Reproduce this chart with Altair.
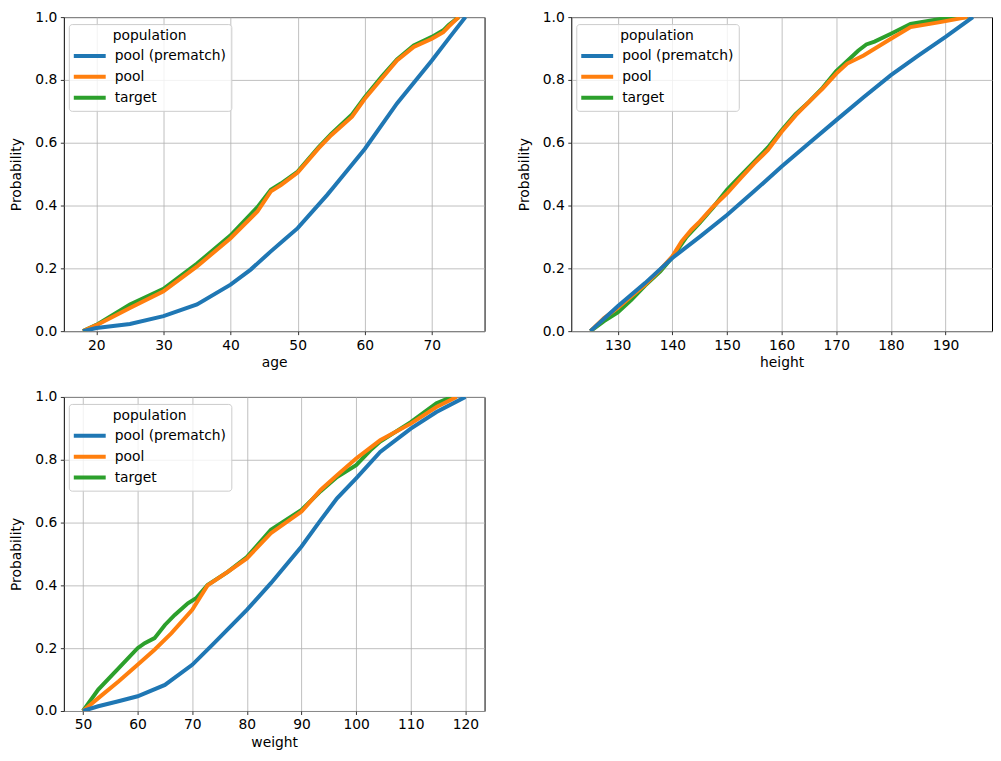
import altair as alt
import pandas as pd

POPS = ["pool (prematch)", "pool", "target"]
COLORS = ["#1f77b4", "#ff7f0e", "#2ca02c"]

# ---- age ----
age_pre_x = [18, 20, 25, 30, 35, 40, 43, 46, 48, 50, 54.4, 55.4, 60, 64.8, 70, 72.7, 75]
age_pre_y = [0, 0.01, 0.023, 0.048, 0.085, 0.148, 0.196, 0.254, 0.291, 0.328, 0.434, 0.46, 0.58, 0.725, 0.862, 0.937, 1.0]
age_pool_x = [18, 20, 25, 30, 35, 40, 44, 46, 47.5, 50, 53.1, 55, 58.1, 60, 62.5, 64.8, 67.3, 70, 71.7, 72.5, 74]
age_pool_y = [0, 0.019, 0.074, 0.127, 0.206, 0.296, 0.381, 0.445, 0.465, 0.505, 0.582, 0.624, 0.683, 0.74, 0.804, 0.862, 0.905, 0.931, 0.952, 0.97, 1.0]
age_tgt_x = [18, 20, 25, 30, 35, 40, 44, 46, 47.5, 50, 53.1, 55, 58.1, 60, 62.5, 64.8, 67.3, 70, 71.7, 72.5, 74]
age_tgt_y = [0, 0.02, 0.085, 0.135, 0.215, 0.305, 0.395, 0.45, 0.47, 0.508, 0.585, 0.628, 0.69, 0.745, 0.81, 0.865, 0.91, 0.937, 0.958, 0.975, 1.0]

# ---- height ----
h_pre_x = [125, 130, 135, 140, 145, 150, 155, 160, 165, 170, 175, 180, 185, 190, 195]
h_pre_y = [0, 0.079, 0.153, 0.233, 0.30, 0.37, 0.446, 0.524, 0.598, 0.672, 0.745, 0.815, 0.877, 0.937, 1.0]
h_pool_x = [125, 127.5, 130, 132.5, 135, 137.8, 140, 141.7, 143.5, 145, 147.5, 150, 152.5, 155, 157.5, 160,
            162.6, 165, 167.5, 170, 172, 175, 180, 183.6, 189, 194]
h_pool_y = [0, 0.042, 0.074, 0.111, 0.148, 0.196, 0.238, 0.286, 0.323, 0.349, 0.397, 0.439, 0.487, 0.534, 0.577, 0.635,
            0.688, 0.73, 0.772, 0.82, 0.852, 0.878, 0.931, 0.968, 0.984, 1.0]
h_tgt_x = [125, 127.5, 130, 132.5, 135, 137.8, 140, 142.6, 145, 147.5, 150, 152.5, 155, 157.5, 160,
           162.5, 165, 167.5, 170, 172, 174, 175.5, 177, 180, 183.6, 189, 194]
h_tgt_y = [0, 0.032, 0.06, 0.10, 0.145, 0.19, 0.235, 0.30, 0.345, 0.395, 0.45, 0.495, 0.54, 0.585, 0.64,
           0.69, 0.73, 0.775, 0.828, 0.86, 0.893, 0.913, 0.922, 0.947, 0.978, 0.994, 1.0]

# ---- weight ----
w_pre_x = [50, 52.8, 56.5, 60, 65, 70, 74, 80, 84.4, 90, 93.5, 96.5, 100, 104.4, 110, 114.7, 120]
w_pre_y = [0, 0.015, 0.031, 0.047, 0.083, 0.147, 0.216, 0.322, 0.407, 0.524, 0.608, 0.677, 0.741, 0.825, 0.899, 0.952, 1.0]
w_pool_x = [50, 52.8, 56.5, 60, 63.1, 66.2, 70, 72.8, 76.5, 80, 84.4, 90, 93.5, 96.5, 100, 104.4, 110, 114.7, 118.4]
w_pool_y = [0, 0.041, 0.094, 0.147, 0.195, 0.248, 0.322, 0.40, 0.443, 0.486, 0.566, 0.635, 0.704, 0.751, 0.804, 0.862,
            0.915, 0.968, 1.0]
w_tgt_x = [50, 52.8, 56.5, 60, 61.3, 63.1, 65, 66.8, 69.2, 70.7, 72.8, 76.5, 80, 84.4, 90, 93.5, 96.5, 100, 102.6,
           104.4, 110, 114.7, 117.5]
w_tgt_y = [0, 0.068, 0.136, 0.2, 0.216, 0.232, 0.274, 0.306, 0.343, 0.359, 0.401, 0.443, 0.49, 0.577, 0.64, 0.70,
           0.745, 0.783, 0.83, 0.858, 0.92, 0.98, 1.0]

Y_TICKS = [0, 0.2, 0.4, 0.6, 0.8, 1.0]


def frame(series):
    rows = []
    for pop, xs, ys in series:
        for x, y in zip(xs, ys):
            rows.append({"population": pop, "value": x, "prob": y})
    return pd.DataFrame(rows)


def panel(df, name, domain, ticks):
    base = alt.Chart(df)
    layers = []
    for pop in ["target", "pool", "pool (prematch)"]:
        layers.append(
            base.transform_filter(alt.datum.population == pop)
            .mark_line(strokeWidth=4, clip=True)
            .encode(
                x=alt.X("value:Q", scale=alt.Scale(domain=domain, nice=False, zero=False),
                        axis=alt.Axis(values=ticks, format="d", title=name)),
                y=alt.Y("prob:Q", scale=alt.Scale(domain=[0, 1], nice=False),
                        axis=alt.Axis(values=Y_TICKS, format=".1f", title="Probability")),
                color=alt.Color("population:N", scale=alt.Scale(domain=POPS, range=COLORS),
                                legend=alt.Legend(title="population", orient="none", legendX=5, legendY=7)),
            )
        )
    return alt.layer(*layers).properties(width=422, height=315)


age_df = frame([("pool (prematch)", age_pre_x, age_pre_y), ("pool", age_pool_x, age_pool_y), ("target", age_tgt_x, age_tgt_y)])
h_df = frame([("pool (prematch)", h_pre_x, h_pre_y), ("pool", h_pool_x, h_pool_y), ("target", h_tgt_x, h_tgt_y)])
w_df = frame([("pool (prematch)", w_pre_x, w_pre_y), ("pool", w_pool_x, w_pool_y), ("target", w_tgt_x, w_tgt_y)])

p1 = panel(age_df, "age", [15.15, 77.85], [20, 30, 40, 50, 60, 70])
p2 = panel(h_df, "height", [121.5, 198.5], [130, 140, 150, 160, 170, 180, 190])
p3 = panel(w_df, "weight", [46.5, 123.5], [50, 60, 70, 80, 90, 100, 110, 120])

top = alt.hconcat(p1, p2, spacing=31).resolve_scale(color="independent").resolve_legend(color="independent")
chart = (
    alt.vconcat(top, p3, spacing=18)
    .resolve_scale(color="independent")
    .resolve_legend(color="independent")
    .properties(padding={"left": 1, "top": 0, "right": 0, "bottom": 0})
    .configure(font="DejaVu Sans")
    .configure_view(stroke="black", strokeWidth=1)
    .configure_axis(
        grid=True, gridColor="#b0b0b0", gridWidth=0.8, domain=False,
        tickColor="black", tickSize=3.5, tickWidth=0.8,
        labelFont="DejaVu Sans", labelFontSize=13.9, labelColor="black", labelPadding=3.5,
        titleFont="DejaVu Sans", titleFontSize=13.9, titleFontWeight="normal", titleColor="black",
    )
    .configure_axisY(minExtent=29, maxExtent=29, titlePadding=11)
    .configure_axisX(titlePadding=4)
    .configure_legend(
        fillColor="rgba(255,255,255,0.8)", strokeColor="#cccccc", cornerRadius=3, padding=5,
        titleFont="DejaVu Sans", titleFontSize=13.9, titleFontWeight="normal", titleColor="black",
        titleAnchor="middle", titlePadding=3,
        labelFont="DejaVu Sans", labelFontSize=13.9, labelColor="black", labelOffset=15,
        symbolType="M-2,0H2", symbolStrokeWidth=4, symbolSize=256, symbolOffset=6, rowPadding=3,
    )
)

chart.save("out.html", embed_options={"renderer": "svg", "actions": False})
